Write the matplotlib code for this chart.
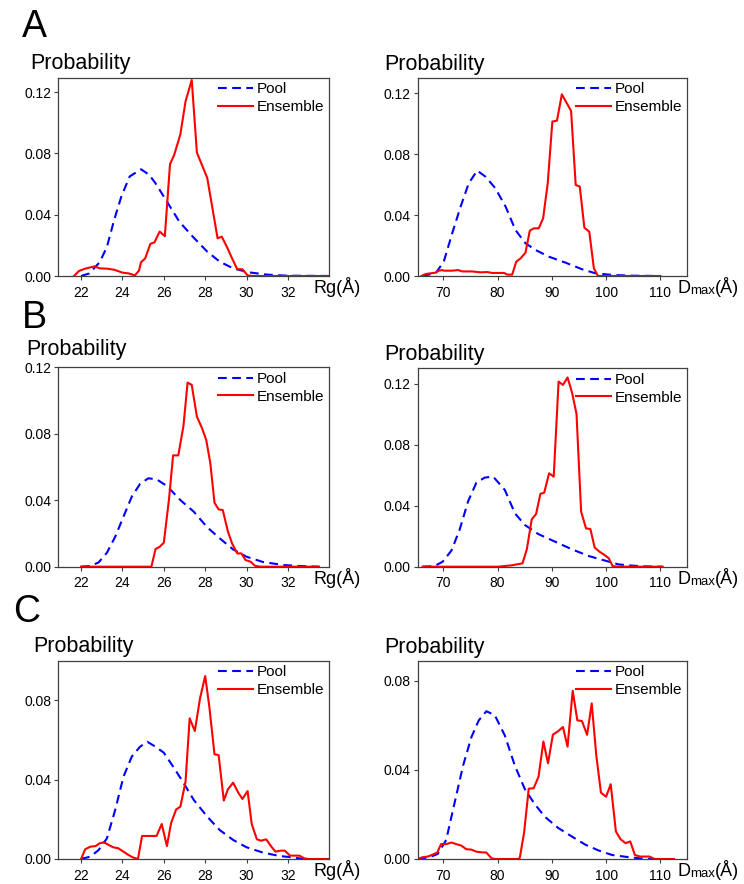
import matplotlib
matplotlib.use("Agg")
import matplotlib.pyplot as plt

plt.rcParams['font.family'] = ['Liberation Sans', 'DejaVu Sans']

# ---- panel A ----
rg_a_pool_x = [22.0, 22.4, 22.9, 23.25, 23.6, 23.95, 24.35, 24.9, 25.3, 25.6, 26.1, 26.75, 27.4, 28.1, 28.7, 29.35, 30.1, 31.0, 31.95, 34.0]
rg_a_pool_y = [0, 0.0017, 0.009, 0.019, 0.0366, 0.052, 0.065, 0.0697, 0.066, 0.0605, 0.0497, 0.0355, 0.0257, 0.0159, 0.0094, 0.005, 0.0024, 0.0009, 0.0002, 0]
rg_a_ens_x = [21.66, 21.9, 22.2, 22.65, 22.9, 23.25, 23.6, 24.0, 24.3, 24.6, 24.8, 24.9, 25.1, 25.35, 25.55, 25.8, 26.05, 26.3, 26.5, 26.8, 27.05, 27.35, 27.6, 28.1, 28.6, 28.8, 29.05, 29.3, 29.55, 29.8, 30.05, 30.3, 34.0]
rg_a_ens_y = [0, 0.0033, 0.0048, 0.0063, 0.005, 0.0048, 0.0041, 0.0022, 0.0017, 0.0004, 0.0035, 0.009, 0.0115, 0.021, 0.022, 0.029, 0.026, 0.073, 0.079, 0.0925, 0.114, 0.128, 0.0806, 0.064, 0.0246, 0.0257, 0.019, 0.0115, 0.0044, 0.0044, 0.0004, 0, 0]

dm_a_pool_x = [66.1, 68.6, 70.1, 71.65, 73.2, 74.7, 76.25, 77.8, 79.6, 81.5, 83.3, 85.15, 87.0, 89.45, 92.5, 95.6, 98.0, 101.1, 104.8, 110.0]
dm_a_pool_y = [0, 0.0018, 0.0094, 0.028, 0.0455, 0.0609, 0.0692, 0.0652, 0.0576, 0.0455, 0.0302, 0.0215, 0.0171, 0.0127, 0.0088, 0.0044, 0.0018, 0.0007, 0.0002, 0]
dm_a_ens_x = [66.0, 66.75, 68.6, 69.2, 69.8, 70.1, 71.65, 72.75, 73.5, 75.3, 76.9, 78.1, 79.0, 81.2, 81.8, 82.7, 83.45, 84.25, 85.15, 85.95, 86.7, 87.6, 88.4, 89.25, 90.1, 90.95, 91.85, 93.55, 94.4, 95.15, 96.0, 96.9, 97.75, 98.5, 110.0]
dm_a_ens_y = [0, 0.0013, 0.0022, 0.0035, 0.0039, 0.0035, 0.0035, 0.0039, 0.003, 0.003, 0.0024, 0.0026, 0.002, 0.002, 0.0009, 0.0009, 0.0094, 0.0116, 0.0153, 0.0298, 0.0313, 0.0313, 0.0379, 0.0609, 0.1014, 0.102, 0.1193, 0.1084, 0.0598, 0.0587, 0.0317, 0.0291, 0.005, 0, 0]

# ---- panel B ----
rg_b_pool_x = [22.0, 22.45, 22.85, 23.25, 23.65, 24.05, 24.45, 24.85, 25.25, 25.65, 26.15, 26.8, 27.45, 28.1, 28.7, 29.35, 30.0, 30.8, 31.8, 32.6, 33.5]
rg_b_pool_y = [0, 0.0004, 0.0026, 0.0084, 0.018, 0.0301, 0.0421, 0.0498, 0.0532, 0.0526, 0.0486, 0.0401, 0.0331, 0.0237, 0.0171, 0.0104, 0.006, 0.0028, 0.001, 0.0004, 0]
rg_b_ens_x = [22.0, 25.4, 25.6, 25.8, 26.0, 26.25, 26.45, 26.7, 26.95, 27.15, 27.35, 27.6, 27.85, 28.05, 28.25, 28.45, 28.65, 28.85, 29.1, 29.3, 29.55, 29.75, 29.95, 30.2, 30.4, 30.65, 33.5]
rg_b_ens_y = [0, 0, 0.0106, 0.012, 0.0144, 0.0405, 0.067, 0.067, 0.0847, 0.1108, 0.1094, 0.0903, 0.0833, 0.0763, 0.0622, 0.0385, 0.0345, 0.0341, 0.0211, 0.014, 0.008, 0.008, 0.004, 0.003, 0.0006, 0, 0]

dm_b_pool_x = [66.2, 68.4, 69.9, 71.5, 73.0, 74.6, 76.1, 77.65, 79.2, 81.35, 83.2, 85.05, 87.5, 90.6, 93.7, 96.8, 99.9, 102.3, 104.8, 107.3, 110.4]
dm_b_pool_y = [0, 0.0004, 0.0033, 0.0105, 0.024, 0.043, 0.055, 0.0584, 0.059, 0.0503, 0.035, 0.0273, 0.0214, 0.0164, 0.0114, 0.007, 0.0039, 0.0015, 0.0007, 0.0002, 0]
dm_b_ens_x = [66.2, 80.1, 82.6, 84.6, 85.4, 86.3, 87.1, 87.9, 88.6, 89.5, 90.35, 91.25, 92.05, 92.9, 93.75, 94.55, 95.4, 96.3, 97.1, 97.9, 98.8, 99.7, 100.5, 101.2, 102.1, 110.4]
dm_b_ens_y = [0, 0, 0.0009, 0.0022, 0.0114, 0.031, 0.0345, 0.0477, 0.0485, 0.0612, 0.059, 0.1213, 0.1191, 0.124, 0.1137, 0.1001, 0.0361, 0.0251, 0.0247, 0.0125, 0.0098, 0.0077, 0.0055, 0.0004, 0, 0]

# ---- panel C ----
rg_c_pool_x = [22.0, 22.45, 22.85, 23.25, 23.65, 24.05, 24.45, 24.85, 25.2, 25.6, 26.0, 26.45, 26.95, 27.45, 28.1, 28.7, 29.35, 30.0, 30.8, 31.6, 32.25, 32.75]
rg_c_pool_y = [0, 0.0012, 0.0045, 0.0104, 0.0247, 0.0414, 0.0515, 0.0565, 0.059, 0.0565, 0.0535, 0.0465, 0.0384, 0.0297, 0.0213, 0.0146, 0.0096, 0.0059, 0.0032, 0.0015, 0.0008, 0]
rg_c_ens_x = [22.0, 22.2, 22.45, 22.7, 22.9, 23.1, 23.35, 23.55, 23.8, 24.05, 24.25, 24.5, 24.75, 24.95, 25.2, 25.4, 25.65, 25.9, 26.15, 26.35, 26.6, 26.8, 27.05, 27.25, 27.5, 27.75, 28.0, 28.2, 28.45, 28.65, 28.9, 29.1, 29.35, 29.6, 29.8, 30.05, 30.25, 30.5, 30.7, 30.95, 31.2, 31.4, 31.65, 31.85, 32.1, 32.35, 32.55, 32.8, 33.0, 34.0]
rg_c_ens_y = [0, 0.0049, 0.0062, 0.0065, 0.0079, 0.0084, 0.007, 0.0059, 0.0054, 0.0037, 0.0023, 0.0008, 0, 0.0116, 0.0116, 0.0116, 0.0116, 0.0176, 0.0065, 0.018, 0.025, 0.0263, 0.0389, 0.0708, 0.0644, 0.0808, 0.0921, 0.0767, 0.0527, 0.0523, 0.0294, 0.0351, 0.0384, 0.0334, 0.0302, 0.0342, 0.0176, 0.0099, 0.0092, 0.0099, 0.0062, 0.0037, 0.0042, 0.0042, 0.0017, 0.0017, 0.0017, 0.0003, 0, 0]

dm_c_pool_x = [65.3, 67.5, 69.0, 70.55, 72.1, 73.65, 75.2, 76.55, 77.95, 79.5, 81.35, 83.2, 85.05, 86.9, 88.75, 91.2, 93.7, 96.2, 98.65, 101.1, 104.2, 106.65, 108.5]
dm_c_pool_y = [0, 0.0008, 0.0023, 0.0086, 0.0253, 0.0419, 0.0548, 0.0623, 0.0664, 0.0646, 0.0555, 0.0419, 0.0313, 0.0245, 0.0189, 0.0139, 0.0101, 0.0064, 0.0038, 0.0018, 0.0008, 0.0002, 0]
dm_c_ens_x = [65.3, 66.2, 67.15, 68.1, 68.9, 69.6, 70.55, 71.5, 72.4, 73.35, 74.25, 75.2, 76.1, 77.05, 77.95, 78.9, 79.6, 83.8, 84.1, 84.9, 85.75, 86.65, 87.55, 88.45, 89.3, 90.2, 91.1, 92.05, 92.9, 93.85, 94.7, 95.55, 96.5, 97.35, 98.2, 99.05, 100.0, 100.85, 101.8, 102.65, 103.6, 104.45, 105.3, 106.25, 107.1, 108.0, 108.9, 112.5]
dm_c_ens_y = [0, 0.0008, 0.0011, 0.002, 0.0029, 0.0067, 0.0067, 0.0074, 0.0067, 0.006, 0.0044, 0.0042, 0.0033, 0.003, 0.0029, 0.0003, 0, 0, 0.0005, 0.0119, 0.0316, 0.0318, 0.0369, 0.0528, 0.043, 0.0559, 0.0573, 0.0593, 0.0505, 0.0756, 0.0623, 0.062, 0.0558, 0.0699, 0.0464, 0.0298, 0.028, 0.0336, 0.0124, 0.0089, 0.0071, 0.0079, 0.0018, 0.0011, 0.0011, 0.0011, 0, 0]

rg_ticks = [22, 24, 26, 28, 30, 32]
dm_ticks = [70, 80, 90, 100, 110]

W, H = 744, 884
fig = plt.figure(figsize=(W / 100, H / 100), dpi=100)

def px_axes(l, t, r, b):
    return fig.add_axes([l / W, 1 - b / H, (r - l) / W, (b - t) / H])

def draw(ax, px, py, ex, ey, xlim, ylim, yticks, xticks, prob_xy):
    ax.plot(px, py, color='#0000ff', lw=1.5, linestyle=(0, (4.2, 2.6)), label='Pool')
    ax.plot(ex, ey, color='#ff0000', lw=1.5, label='Ensemble')
    ax.set_xlim(*xlim)
    ax.set_ylim(*ylim)
    ax.set_xticks(xticks)
    ax.set_yticks(yticks)
    ax.set_yticklabels(['%.2f' % v for v in yticks])
    for s in ax.spines.values():
        s.set_color('#404040')
        s.set_linewidth(0.9)
    ax.tick_params(direction='out', length=3, width=0.8, color='#404040',
                   labelsize=10, pad=2)
    ax.tick_params(axis='x', pad=4)
    ax.legend(loc='upper right', bbox_to_anchor=(1.0, 1.0), frameon=False,
              fontsize=11, handlelength=2.3, handletextpad=0.25,
              borderaxespad=0.1, borderpad=0.2, labelspacing=0.25)
    ax.text(prob_xy[0], prob_xy[1], 'Probability', transform=ax.transAxes,
            fontsize=15.5, va='baseline', ha='left')

def rg_label(ax):
    ax.text(0.94, -0.086, 'Rg(Å)', transform=ax.transAxes, fontsize=13,
            va='baseline', ha='left')

def dmax_label(ax):
    t = ax.text(0.963, -0.086, 'D', transform=ax.transAxes, fontsize=13,
                va='baseline', ha='left')
    t2 = ax.annotate('max', xy=(1, 0), xycoords=t, fontsize=9.5,
                     va='bottom', ha='left', annotation_clip=False)
    ax.annotate('(Å)', xy=(1, 0), xycoords=t2, fontsize=13,
                va='bottom', ha='left', annotation_clip=False)

# A
ax = px_axes(58.3, 77.7, 329.3, 276)
draw(ax, rg_a_pool_x, rg_a_pool_y, rg_a_ens_x, rg_a_ens_y, (20.9, 34.0), (0, 0.1295),
     [0, 0.04, 0.08, 0.12], rg_ticks, (-0.104, 1.046))
rg_label(ax)
ax = px_axes(417.7, 77.7, 687, 276)
draw(ax, dm_a_pool_x, dm_a_pool_y, dm_a_ens_x, dm_a_ens_y, (65.3, 114.9), (0, 0.1302),
     [0, 0.04, 0.08, 0.12], dm_ticks, (-0.125, 1.039))
dmax_label(ax)

# B
ax = px_axes(58.3, 367.3, 329.3, 566.7)
draw(ax, rg_b_pool_x, rg_b_pool_y, rg_b_ens_x, rg_b_ens_y, (20.9, 34.0), (0, 0.12),
     [0, 0.04, 0.08, 0.12], rg_ticks, (-0.119, 1.062))
rg_label(ax)
ax = px_axes(417.7, 368.3, 687, 566.7)
draw(ax, dm_b_pool_x, dm_b_pool_y, dm_b_ens_x, dm_b_ens_y, (65.3, 114.9), (0, 0.130),
     [0, 0.04, 0.08, 0.12], dm_ticks, (-0.125, 1.042))
dmax_label(ax)

# C
ax = px_axes(58.3, 660.7, 329.3, 859)
draw(ax, rg_c_pool_x, rg_c_pool_y, rg_c_ens_x, rg_c_ens_y, (20.9, 34.0), (0, 0.0998),
     [0, 0.04, 0.08], rg_ticks, (-0.093, 1.044))
rg_label(ax)
ax = px_axes(417.7, 660.7, 687, 859)
draw(ax, dm_c_pool_x, dm_c_pool_y, dm_c_ens_x, dm_c_ens_y, (65.3, 114.9), (0, 0.0891),
     [0, 0.04, 0.08], dm_ticks, (-0.125, 1.039))
dmax_label(ax)

for letter, x, y in [('A', 22, 37), ('B', 22, 328), ('C', 13, 622)]:
    fig.text(x / W, 1 - y / H, letter, fontsize=27, va='baseline', ha='left')

fig.savefig('out.png', dpi=100)
